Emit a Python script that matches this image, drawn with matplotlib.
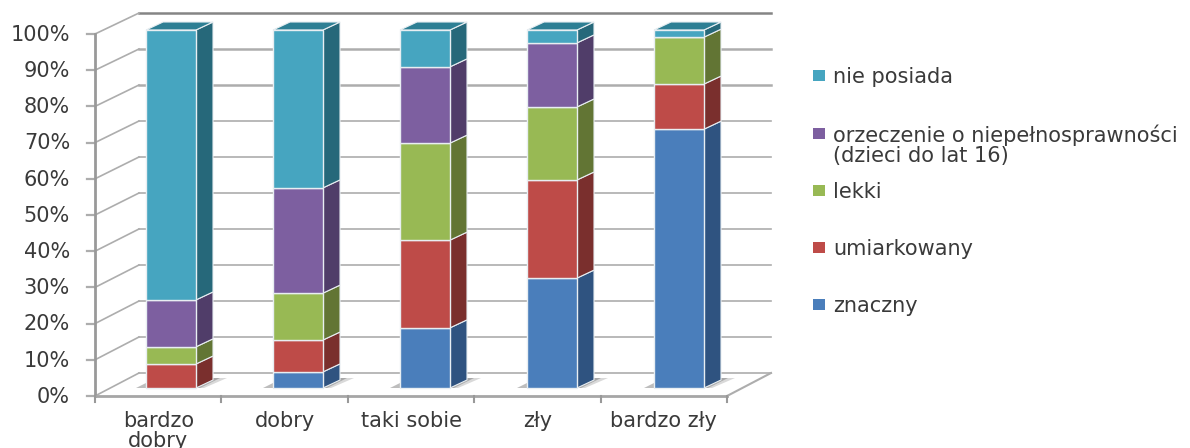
import matplotlib
matplotlib.use("Agg")
import matplotlib.pyplot as plt
import numpy as np
from matplotlib.patches import Polygon, Rectangle

categories = ["bardzo\ndobry", "dobry", "taki sobie", "zły", "bardzo zły"]
series_names = ["znaczny", "umiarkowany", "lekki",
                "orzeczenie o niepełnosprawności\n(dzieci do lat 16)", "nie posiada"]
znaczny = [0, 4.5, 16.8, 30.7, 72.3]
umiarkowany = [6.7, 8.9, 24.5, 27.4, 12.6]
lekki = [4.8, 13.1, 27.1, 20.4, 13.1]
orzeczenie = [13.1, 29.4, 21.3, 17.9, 0]
nie_posiada = [75.4, 44.1, 10.3, 3.6, 2.0]
series = [znaczny, umiarkowany, lekki, orzeczenie, nie_posiada]
percent_ticks = list(range(0, 101, 10))

front_colors = ["#4A7EBB", "#BE4B48", "#98B954", "#7D5FA0", "#46A5C0"]
side_colors = ["#2F5380", "#7A2F2D", "#627534", "#503D69", "#26687A"]
top_color = "#2E7F94"
grid_color = "#adadad"
text_color = "#3a3a3a"
font_size = 15

# one axes over the whole figure: x = category number, y = percent of the bars
PX_X, PX_Y = 127.0, 3.58
fig = plt.figure(figsize=(11.9, 4.48), dpi=100)
ax = fig.add_axes([0, 0, 1, 1])
ax.set_xlim(-171 / PX_X, (1190 - 171) / PX_X)
ax.set_ylim((388 - 448) / PX_Y, 388 / PX_Y)
ax.axis("off")

bar_w = 50 / PX_X
dx = 17 / PX_X
dy = 8 / PX_Y
left_x, right_x = (95 - 171) / PX_X, (727 - 171) / PX_X
wall_dx = 44 / PX_X


def axis_y(p):
    return (-8 + 3.62 * p) / PX_Y


def wall_y(p):
    return (15 + 3.6 * p) / PX_Y


# back wall gridlines and left wall diagonals
for p in percent_ticks:
    lw = 1.8 if p in (100, 90, 80) else 1.2
    c = "#858585" if p == 100 else grid_color
    ax.plot([left_x + wall_dx, right_x + wall_dx], [wall_y(p), wall_y(p)], color=c, lw=lw, zorder=1)
    ax.plot([left_x, left_x + wall_dx], [axis_y(p), wall_y(p)], color=grid_color, lw=1.2, zorder=1)
    ax.plot([left_x - 8 / PX_X, left_x], [axis_y(p), axis_y(p)], color=grid_color, lw=1.6, zorder=1)
    ax.text(70 / PX_X - 171 / PX_X, axis_y(p) - 0.2, f"{p}%", ha="right", va="center",
            fontsize=font_size, color=text_color)

# floor and axes
ax.plot([left_x, left_x], [axis_y(0), axis_y(100)], color="#999999", lw=2, zorder=1)
ax.plot([left_x, right_x], [axis_y(0), axis_y(0)], color="#a6a6a6", lw=2, zorder=1)
ax.plot([right_x, right_x + wall_dx], [axis_y(0), wall_y(0)], color=grid_color, lw=1.5, zorder=1)
for i in range(len(categories) + 1):
    tx = left_x + i * (right_x - left_x) / len(categories)
    ax.plot([tx, tx], [axis_y(0), axis_y(0) - 6 / PX_Y], color="#999999", lw=1.5, zorder=1)

x = np.arange(len(categories))
bottom = np.zeros(len(categories))
for vals, front, side in zip(series, front_colors, side_colors):
    ax.bar(x, vals, bar_w, bottom=bottom, color=front, edgecolor="#e8eef2", linewidth=1.0, zorder=4)
    for i in x:
        if vals[i] == 0:
            continue
        r = i + bar_w / 2
        b, t = bottom[i], bottom[i] + vals[i]
        ax.add_patch(Polygon([(r, b), (r + dx, b + dy), (r + dx, t + dy), (r, t)],
                             facecolor=side, edgecolor="#e8eef2", linewidth=0.8, zorder=3))
    bottom += np.array(vals)

# bar tops and floor shadows
for i in x:
    l, r = i - bar_w / 2, i + bar_w / 2
    ax.add_patch(Polygon([(l, bottom[i]), (r, bottom[i]), (r + dx, bottom[i] + dy), (l + dx, bottom[i] + dy)],
                         facecolor=top_color, edgecolor="#e8eef2", linewidth=0.8, zorder=3))
    ax.add_patch(Polygon([(l - 10 / PX_X, 0), (l, 0), (l, 5 / PX_Y)], facecolor="#bdbdbd",
                         edgecolor="none", zorder=2))
    ax.add_patch(Polygon([(r, 0), (r + 8 / PX_X, 0), (r + 31 / PX_X, 10 / PX_Y), (r + dx, 10 / PX_Y)],
                         facecolor="#d9d9d9", edgecolor="none", zorder=2))
    ax.add_patch(Polygon([(r, 0), (r + 4 / PX_X, 0), (r + 24 / PX_X, 10 / PX_Y), (r + dx, 10 / PX_Y)],
                         facecolor="#a8a8a8", edgecolor="none", zorder=2))

# category labels
for i, name in enumerate(categories):
    cx = left_x + (i + 0.5) * (right_x - left_x) / len(categories)
    ax.text(cx, (388 - 411) / PX_Y, name, ha="center", va="top", fontsize=font_size, color=text_color,
            linespacing=1.0, clip_on=True)

# legend, top entry first
legend_y = [305, 248, 191, 134, 76]
for name, c, ly in zip(series_names, front_colors, legend_y):
    ax.add_patch(Rectangle(((813 - 171) / PX_X, (388 - ly - 5) / PX_Y), 12 / PX_X, 11 / PX_Y,
                           facecolor=c, edgecolor="none", zorder=5))
    ax.text((833 - 171) / PX_X, (388 - ly - 1) / PX_Y, name.split("\n")[0], ha="left", va="center",
            fontsize=font_size, color=text_color)
    if "\n" in name:
        ax.text((833 - 171) / PX_X, (388 - ly - 22) / PX_Y, name.split("\n")[1], ha="left", va="center",
                fontsize=font_size, color=text_color)

fig.savefig("out.png", dpi=100)
